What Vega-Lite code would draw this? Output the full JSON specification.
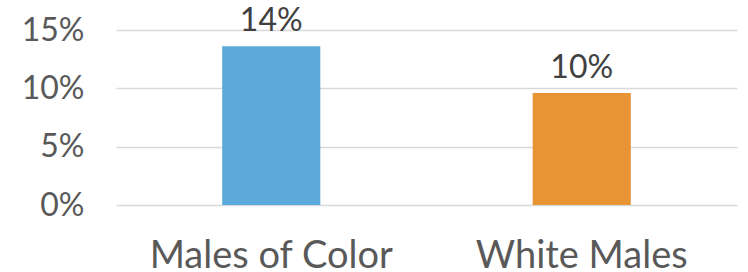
{
  "$schema": "https://vega.github.io/schema/vega-lite/v6.json",
  "autosize": "none",
  "padding": {"left": 116, "top": 30, "right": 11, "bottom": 67},
  "width": 621,
  "height": 175,
  "background": "white",
  "data": {"values": [
    {"group": "Males of Color", "value": 0.136, "label": "14%"},
    {"group": "White Males", "value": 0.096, "label": "10%"}
  ]},
  "config": {"view": {"stroke": null}, "font": "Lato"},
  "encoding": {
    "x": {"field": "group", "type": "nominal", "sort": null,
      "scale": {"paddingInner": 0.684, "paddingOuter": 0.342},
      "axis": {"title": null, "labelAngle": 0, "ticks": false, "domain": false, "labelFont": "Lato", "labelFontSize": 38, "labelColor": "#595959", "labelPadding": 32, "labelLimit": 600}},
    "y": {"field": "value", "type": "quantitative",
      "scale": {"domain": [0, 0.15], "nice": false},
      "axis": {"title": null, "values": [0, 0.05, 0.1, 0.15], "format": ".0%", "ticks": false, "domain": false, "labelFont": "Lato", "labelFontSize": 32, "labelColor": "#595959", "labelPadding": 32, "gridColor": "#D9D9D9", "gridWidth": 1.3}}
  },
  "layer": [
    {"mark": {"type": "bar"},
      "encoding": {"color": {"field": "group", "type": "nominal", "legend": null, "scale": {"domain": ["Males of Color", "White Males"], "range": ["#5BAADB", "#E89434"]}}}},
    {"mark": {"type": "text", "baseline": "alphabetic", "dy": -15, "font": "Lato", "fontSize": 32, "color": "#404040"},
      "encoding": {"text": {"field": "label"}}}
  ]
}
